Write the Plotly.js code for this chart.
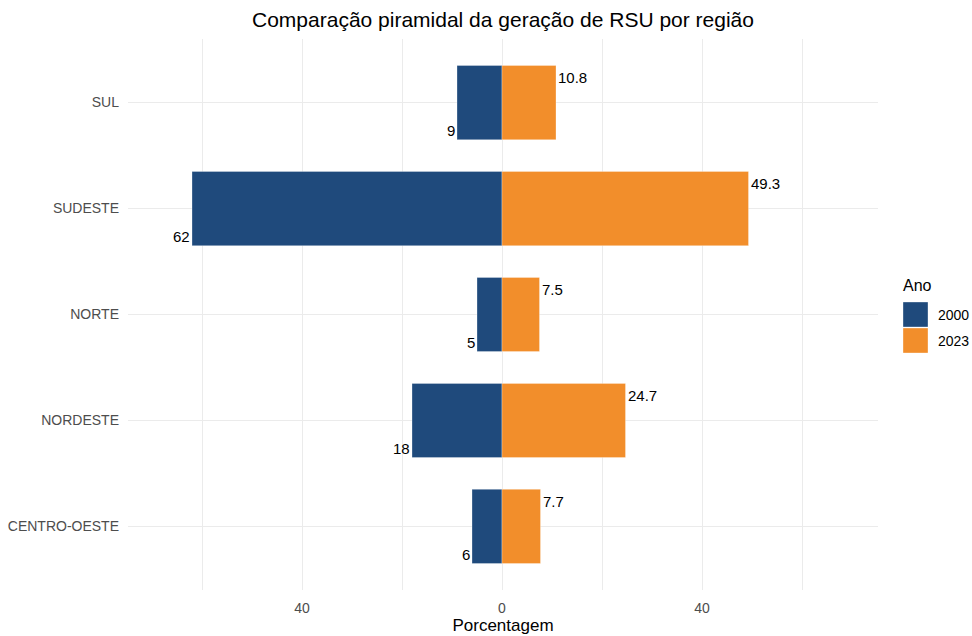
<!DOCTYPE html>
<html>
<head>
<meta charset="utf-8">
<script src="https://cdn.plot.ly/plotly-3.0.1.min.js"></script>
<style>html,body{margin:0;padding:0;background:#fff;}#chart{width:972px;height:636px;}</style>
</head>
<body>
<div id="chart"></div>
<script>
var regioes = ['CENTRO-OESTE', 'NORDESTE', 'NORTE', 'SUDESTE', 'SUL'];
var valores2000 = [6, 18, 5, 62, 9];
var valores2023 = [7.7, 24.7, 7.5, 49.3, 10.8];
var anos = ['2000', '2023'];
var xTickVals = [-40, 0, 40];
var xTickText = ['40', '0', '40'];
var xMinorVals = [-60, -20, 20, 60];

var cor2000 = '#1f4a7c';
var cor2023 = '#f28e2b';
var fonte = 'Liberation Sans, Arial, sans-serif';

var neg2000 = valores2000.map(function (v) { return -v; });

var traces = [
  {
    type: 'bar', orientation: 'h', name: anos[0],
    y: regioes, x: neg2000, width: 0.7,
    marker: {color: cor2000, line: {color: 'rgba(255,255,255,0.6)', width: 0.5}},
    hoverinfo: 'skip', showlegend: false
  },
  {
    type: 'bar', orientation: 'h', name: anos[1],
    y: regioes, x: valores2023, width: 0.7,
    marker: {color: cor2023, line: {color: 'rgba(255,255,255,0.6)', width: 0.5}},
    hoverinfo: 'skip', showlegend: false
  }
];

var annotations = [];
regioes.forEach(function (r, i) {
  annotations.push({
    x: valores2023[i], y: r, xref: 'x', yref: 'y',
    text: String(valores2023[i]), showarrow: false,
    xanchor: 'left', yanchor: 'middle', xshift: 0, yshift: 25,
    font: {family: fonte, size: 15, color: '#000'}
  });
  annotations.push({
    x: neg2000[i], y: r, xref: 'x', yref: 'y',
    text: String(valores2000[i]), showarrow: false,
    xanchor: 'right', yanchor: 'middle', xshift: 0, yshift: -28,
    font: {family: fonte, size: 15, color: '#000'}
  });
});

// legend (drawn manually to match ggplot style)
var L = 128, W = 750, T = 39, H = 551;
function px(x) { return (x - L) / W; }
function py(y) { return (T + H - y) / H; }
annotations.push({
  xref: 'paper', yref: 'paper', x: px(901), y: py(285),
  text: 'Ano', showarrow: false, xanchor: 'left', yanchor: 'middle',
  font: {family: fonte, size: 16, color: '#000'}
});
var legendCols = [cor2000, cor2023];
var shapes = [];
anos.forEach(function (a, i) {
  var top = 302 + i * 26;
  shapes.push({
    type: 'rect', xref: 'paper', yref: 'paper',
    x0: px(903), x1: px(928), y0: py(top + 25), y1: py(top),
    fillcolor: legendCols[i], line: {color: 'rgba(255,255,255,0.7)', width: 0.5}
  });
  annotations.push({
    xref: 'paper', yref: 'paper', x: px(936), y: py(top + 13),
    text: a, showarrow: false, xanchor: 'left', yanchor: 'middle',
    font: {family: fonte, size: 14, color: '#000'}
  });
});

var layout = {
  width: 972, height: 636,
  margin: {l: L, r: 972 - L - W, t: T, b: 636 - T - H},
  paper_bgcolor: '#fff', plot_bgcolor: '#fff',
  barmode: 'relative',
  title: {
    text: 'Comparação piramidal da geração de RSU por região',
    x: (L + W / 2) / 972, xanchor: 'center', y: 1 - 20 / 636, yanchor: 'middle',
    font: {family: fonte, size: 21, color: '#000'}
  },
  xaxis: {
    range: [-74.8, 75.2],
    tickvals: xTickVals, ticktext: xTickText,
    showgrid: true, gridcolor: '#ebebeb', gridwidth: 1,
    minor: {tickvals: xMinorVals, showgrid: true, gridcolor: '#ebebeb', gridwidth: 1, ticks: ''},
    zeroline: false, showline: false, ticks: '',
    ticklabelstandoff: 8,
    tickfont: {family: fonte, size: 14, color: '#4d4d4d'},
    title: {text: 'Porcentagem', font: {family: fonte, size: 17, color: '#000'}, standoff: 2},
    fixedrange: true
  },
  yaxis: {
    type: 'category',
    range: [-0.6, 4.6],
    showgrid: true, gridcolor: '#ebebeb', gridwidth: 1,
    zeroline: false, showline: false, ticks: '',
    ticklabelstandoff: 8,
    tickfont: {family: fonte, size: 14, color: '#4d4d4d'},
    fixedrange: true
  },
  showlegend: false,
  annotations: annotations,
  shapes: shapes
};

Plotly.newPlot('chart', traces, layout, {displayModeBar: false, staticPlot: true});
</script>
</body>
</html>
